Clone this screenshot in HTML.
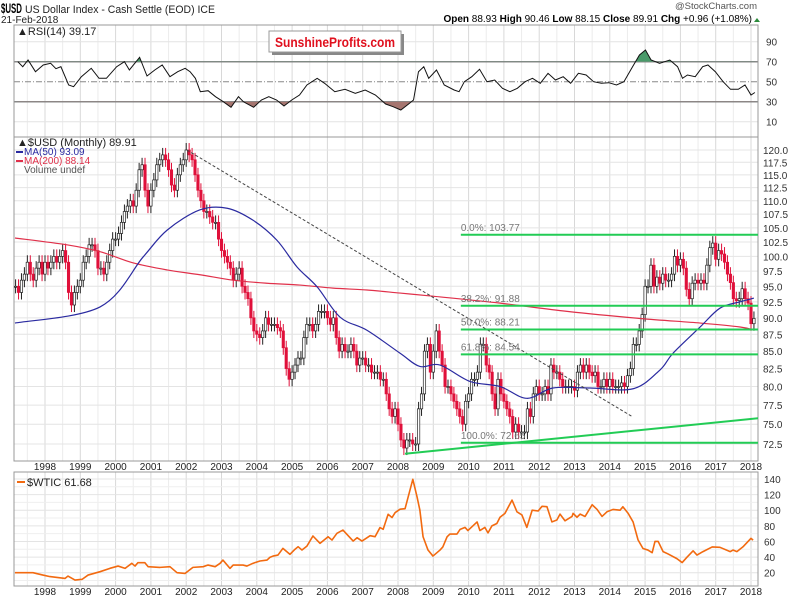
<!DOCTYPE html>
<html><head><meta charset="utf-8"><style>
html,body{margin:0;padding:0;background:#fff;}
svg{display:block;font-family:"Liberation Sans",sans-serif;}
</style></head><body>
<svg id="chart" width="800" height="598" viewBox="0 0 800 598" xmlns="http://www.w3.org/2000/svg">
<rect width="800" height="598" fill="#fff"/>
<g>
<text x="1" y="13" font-size="14" font-weight="bold" fill="#000" textLength="21" lengthAdjust="spacingAndGlyphs">$USD</text>
<text x="25" y="13" font-size="11" fill="#222" textLength="190" lengthAdjust="spacingAndGlyphs">US Dollar Index - Cash Settle (EOD) ICE</text>
<text x="1" y="23" font-size="10" fill="#222">21-Feb-2018</text>
<text x="757" y="9" font-size="9.5" fill="#555" text-anchor="end">@StockCharts.com</text>
<text x="752" y="22" font-size="10" fill="#000" text-anchor="end"><tspan font-weight="bold">Open</tspan> 88.93 <tspan font-weight="bold">High</tspan> 90.46 <tspan font-weight="bold">Low</tspan> 88.15 <tspan font-weight="bold">Close</tspan> 89.91 <tspan font-weight="bold">Chg</tspan> +0.96 (+1.08%)</text>
<path d="M754 22 l3 -4 l3 4 z" fill="#2a8a3a"/>
</g>
<g id="grid"></g>
<g id="rsi"></g>
<g id="price"></g>
<g id="oil"></g>
<g>
<rect x="272" y="34" width="132" height="21" fill="#888"/>
<rect x="269" y="31" width="132" height="21" fill="#fff" stroke="#999"/>
<text x="335" y="47" font-size="14" font-weight="bold" fill="#e0101e" text-anchor="middle" textLength="120" lengthAdjust="spacingAndGlyphs">SunshineProfits.com</text>
</g>
</svg>
<script>
const NS="http://www.w3.org/2000/svg";
// ---------- data ----------
const startYear=1997, startMonth=2; // March 1997
const closes=[95,94,96,97,99,97,96,98,99,97,
99,98,99,100,99,100,101,99,94,92,94,95,
96,99,100,102,102,101,98,98,97,99,101,103,
103,104,106,108,109,110,109,112,116,117,112,109,
112,114,117,118,119,118,116,113,112,115,117,118,
120,119,118,115,112,110,108,108,107,106,106,103,
101,100,99,98,96,97,98,95,94,93,90,88,
87.5,87,88,90,89,89,89,88.5,88,85.5,82.5,81,
82,83,84,84,87,89,89,88,89,91,91,91,
90,89,90,87,85,86,85,85,86,85,83,84,
84,83,83,82,82,82,81,81,79,77,76,77,
75,73,72,73,73,72.5,72.5,77,79,85,86,82,
85,88,85,83,80,80,79,78,77,76,75,78,
79,81,81,82,86,86,83,82,79,77,81,79,
78,77,76,74,75,74,74,74,77,76,79,80,
79,79,80,79,83,82,82,81,80,80,80,80,
79.5,82,83,82,83,82,81.5,82,80,80,81,80,
81,80,80,80,80.5,80,81.5,82.5,86,86,88,90.5,
95,95,98.5,95,96.5,95.5,97,96,96,97,100,98.5,
99.5,98,94.5,93,95.5,96,95.5,96,95.5,98.5,101.5,102.3,
99.5,101,100.4,99,97,95.6,93,92.7,93,94.6,93,92.3,
89.1,89.91];
const ma50Years=[1997.15,1999.56,2000.78,2001.46,2002.39,2003.16,2003.89,2004.57,2005.14,2005.71,2006.36,2007.12,2008.06,2008.62,2009.19,2010.04,2010.89,2011.65,2012.39,2013.44,2014.66,2015.42,2015.79,2016.56,2017.12,2017.69,2018.08];
const ma50Values=[89.2,91.7,99.9,104.6,108.3,108.6,106.4,102.8,98.2,94.9,90.1,88.1,84.7,82.8,83,80.7,80,78.4,79.8,79.8,79.7,82.3,84.7,88.6,91.5,92.5,93.09];
const ma200Years=[1997.15,1998.62,1999.56,2000.49,2001.46,2002.39,2003.33,2004.29,2005.22,2006.16,2007.12,2008.06,2008.99,2010.89,2012.79,2014.86,2016.56,2017.69,2018.08];
const ma200Values=[103.2,102,100.8,98.9,97.7,96.9,96,95.5,95.2,94.7,94.4,93.9,93.4,92.3,91,89.9,89.2,88.6,88.14];
const fibLevels=[103.77,91.88,88.21,84.54,72.65];
const fibLabels=["0.0%: 103.77","38.2%: 91.88","50.0%: 88.21","61.8%: 84.54","100.0%: 72.65"];
const fibStartYear=2009.78, fibEndYear=2018.25;
const supportYears=[2008.2,2018.25], supportValues=[71.3,75.8];
const trendYears=[2002.02,2014.63], trendValues=[120,76];
const priceTicks=[72.5,75,77.5,80,82.5,85,87.5,90,92.5,95,97.5,100,102.5,105,107.5,110,112.5,115,117.5,120];
const rsiYears=[1997.23,1997.37,1997.52,1997.73,1997.95,1998.16,1998.31,1998.45,1998.67,1998.81,1999.03,1999.31,1999.53,1999.74,2000.03,2000.25,2000.39,2000.68,2000.89,2001.11,2001.32,2001.54,2001.76,2001.97,2002.11,2002.26,2002.40,2002.62,2002.83,2003.05,2003.27,2003.48,2003.62,2003.91,2004.13,2004.34,2004.56,2004.77,2004.99,2005.21,2005.42,2005.71,2005.92,2006.21,2006.50,2006.79,2007.07,2007.36,2007.65,2007.86,2008.08,2008.30,2008.44,2008.58,2008.73,2008.87,2009.09,2009.31,2009.59,2009.73,2009.88,2010.09,2010.31,2010.52,2010.74,2010.96,2011.17,2011.38,2011.60,2011.81,2012.03,2012.25,2012.46,2012.68,2012.89,2013.11,2013.33,2013.54,2013.76,2013.97,2014.19,2014.40,2014.62,2014.84,2015.01,2015.17,2015.41,2015.70,2015.92,2016.06,2016.20,2016.42,2016.63,2016.78,2016.99,2017.21,2017.42,2017.64,2017.83,2018.00,2018.11];
const rsiValues=[70,65,71.7,60,66.7,68.4,63,65,46.7,45,55,63.4,53.4,53.4,65,70,61.7,74.4,55.7,61.7,66.7,55,60,63.4,60,53.4,40,41,35,30,24.4,35,30,24.4,31.7,35,31.7,25.7,31.7,36.7,46.7,53.4,48.4,40,42.4,38.4,41.7,36.7,27.7,25,21.7,27.7,31.7,60,65,53.4,61.7,46.7,41.7,40,50,55,62.4,50,51.7,43.4,40,43.4,50,53.4,48.4,58.4,51.7,55,48.4,58.4,56.7,50,48.4,49,46.7,50,63.4,76.7,81.7,71.7,68.4,71.7,65,53.4,56.7,55,65,66.7,60,50,42.4,42.4,46.7,36.7,39.2];
const rsiTicks=[10,30,50,70,90];
const oilYears=[1997.15,1997.66,1997.94,1998.14,1998.57,1998.65,1998.85,1999.05,1999.22,1999.56,1999.84,2000.07,2000.27,2000.46,2000.55,2000.63,2000.83,2000.92,2001.26,2001.54,2001.74,2001.97,2002.19,2002.48,2002.62,2002.82,2002.96,2003.04,2003.24,2003.33,2003.61,2003.72,2003.89,2004.09,2004.29,2004.37,2004.46,2004.60,2004.74,2004.94,2005.08,2005.17,2005.28,2005.42,2005.59,2005.79,2006.02,2006.13,2006.27,2006.44,2006.73,2006.84,2006.98,2007.21,2007.35,2007.49,2007.58,2007.72,2007.83,2007.92,2008.06,2008.20,2008.42,2008.54,2008.62,2008.71,2008.85,2008.99,2009.19,2009.27,2009.39,2009.47,2009.67,2009.76,2009.90,2009.98,2010.24,2010.32,2010.46,2010.55,2010.66,2010.80,2010.89,2011.03,2011.23,2011.37,2011.51,2011.65,2011.80,2011.97,2012.08,2012.22,2012.36,2012.50,2012.59,2012.73,2012.93,2012.96,2013.07,2013.16,2013.30,2013.50,2013.64,2013.78,2013.92,2014.09,2014.29,2014.37,2014.52,2014.66,2014.80,2014.94,2015.08,2015.20,2015.28,2015.37,2015.51,2015.65,2015.90,2016.05,2016.19,2016.36,2016.47,2016.64,2016.90,2017.12,2017.41,2017.49,2017.60,2017.77,2018.00,2018.06];
const oilValues=[20,20,17,15,12.7,15.7,10.6,11.5,17,21.3,25.6,28.5,25.6,32,28.5,32.8,32.8,27.7,26.8,27.7,20,19.1,26.8,27.7,29.8,27.7,32,36.2,25.5,29.8,29.8,28.5,32,35,36.2,39.6,41.3,42.6,51.2,43.5,49.9,53.3,49,54.1,67,57.6,66,61.8,70.4,74.6,60.5,64.8,60.5,67.4,66.1,77.8,75.6,94.8,90.6,97,101.3,102,139.6,117,100,66,49,41.3,49,53,66,69.5,69.5,75.5,78,74,85,74,78,71,80,83,91,96,113,98,94,78,100,99,105,104.5,85,87.5,95,86.5,92,96,91,95,92,107,101,92,98,101,100,104.5,96,85,62,51,49,45.6,60,60,47,44,38,33,40,48,42.6,47,53,52.5,47,49,47,53,64,61.68];
const oilTicks=[20,40,60,80,100,120,140];
const yearLabels=[1998,1999,2000,2001,2002,2003,2004,2005,2006,2007,2008,2009,2010,2011,2012,2013,2014,2015,2016,2017,2018];
// ---------- scales ----------
const L=14,R=758;
const xs=y=>45+(y-1998)*35.3;
const ry=v=>131.7-v;
const py=v=>150+(Math.log(120)-Math.log(v))*583.4;
const oy=v=>572.7-(v-20)*0.781;
function mk(parent,tag,attrs){const e=document.createElementNS(NS,tag);for(const k in attrs)e.setAttribute(k,attrs[k]);parent.appendChild(e);return e;}
function smoothPath(pts){let d='M'+pts[0][0]+','+pts[0][1];for(let i=0;i<pts.length-1;i++){const p0=pts[i-1]||pts[i],p1=pts[i],p2=pts[i+1],p3=pts[i+2]||p2;
const c1=[p1[0]+(p2[0]-p0[0])/6,p1[1]+(p2[1]-p0[1])/6],c2=[p2[0]-(p3[0]-p1[0])/6,p2[1]-(p3[1]-p1[1])/6];
d+=' C'+c1[0]+','+c1[1]+' '+c2[0]+','+c2[1]+' '+p2[0]+','+p2[1];}return d;}
const grid=document.getElementById('grid');
const rsiG=document.getElementById('rsi');
const priceG=document.getElementById('price');
const oilG=document.getElementById('oil');
const panels=[[25,137],[137,461],[472,586]];
panels.forEach(p=>{yearLabels.forEach(yr=>{const l=mk(grid,'line',{x1:xs(yr),x2:xs(yr),y1:p[0],y2:p[1],stroke:'#d8d8d8','stroke-width':1});


const m=mk(grid,'line',{x1:xs(yr-0.5),x2:xs(yr-0.5),y1:p[0],y2:p[1],stroke:'#ececec','stroke-width':1});

});});
priceTicks.forEach(t=>{const l=mk(grid,'line',{x1:L,x2:R,y1:py(t),y2:py(t),stroke:'#e4e4e4'});


const tx=mk(grid,'text',{x:763,y:py(t)+4,'font-size':10,fill:'#333'});tx.textContent=t.toFixed(1);

});
oilTicks.forEach(t=>{const l=mk(grid,'line',{x1:L,x2:R,y1:oy(t),y2:oy(t),stroke:'#e4e4e4'});


const l2=mk(grid,'line',{x1:L,x2:R,y1:oy(t-10),y2:oy(t-10),stroke:'#efefef'});


const tx=mk(grid,'text',{x:764,y:oy(t)+4,'font-size':10,fill:'#333'});tx.textContent=t;

});
rsiTicks.forEach(t=>{const strong=(t===30||t===70);const l=mk(grid,'line',{x1:L,x2:R,y1:ry(t),y2:ry(t),stroke:strong?'#888':(t===50?'#888':'#e4e4e4'),'stroke-width':strong?1.5:1});
if(t===50)l.setAttribute('stroke-dasharray','6 2 1 2');


const tx=mk(grid,'text',{x:766,y:ry(t)+4,'font-size':10,fill:'#333'});tx.textContent=t;

});
[[470],[595]].forEach(r=>{yearLabels.forEach(yr=>{const tx=mk(grid,'text',{x:xs(yr),y:r[0],'font-size':10,fill:'#222','text-anchor':'middle'});tx.textContent=yr;

});});
panels.forEach(p=>{const b=mk(grid,'rect',{x:L,y:p[0],width:R-L,height:p[1]-p[0],fill:'none',stroke:'#999'});

});
// ---------- RSI ----------
const rsiPts=rsiYears.map((y,i)=>xs(y)+','+ry(rsiValues[i])).join(' ');
const defs=mk(rsiG,'defs',{});
const cpLow=mk(defs,'clipPath',{id:'cpLow'});mk(cpLow,'rect',{x:L,y:ry(30),width:R-L,height:40});
const cpHigh=mk(defs,'clipPath',{id:'cpHigh'});mk(cpHigh,'rect',{x:L,y:0,width:R-L,height:ry(70)});
const areaLow=mk(rsiG,'polygon',{points:xs(rsiYears[0])+','+ry(30)+' '+rsiPts+' '+xs(rsiYears[rsiYears.length-1])+','+ry(30),fill:'#a5756f','clip-path':'url(#cpLow)'});


const areaHigh=mk(rsiG,'polygon',{points:xs(rsiYears[0])+','+ry(70)+' '+rsiPts+' '+xs(rsiYears[rsiYears.length-1])+','+ry(70),fill:'#4a9a6a','clip-path':'url(#cpHigh)'});


const rsiLine=mk(rsiG,'polyline',{points:rsiPts,fill:'none',stroke:'#111','stroke-width':1});


const rl=mk(rsiG,'text',{x:17,y:35,'font-size':11,fill:'#222'});rl.textContent='▲RSI(14) 39.17';


// ---------- price ----------
const clipP=mk(defs,'clipPath',{id:'cpPrice'});mk(clipP,'rect',{x:L,y:137,width:R-L,height:324});
const pc=mk(priceG,'g',{'clip-path':'url(#cpPrice)'});
closes.forEach((c,i)=>{const o=i===0?c:closes[i-1];const yr=startYear+(startMonth+i)/12;const x=xs(yr);
const hi=Math.max(o,c)*1.012,lo=Math.min(o,c)*0.988;const down=c<o;
const w=mk(pc,'line',{x1:x,x2:x,y1:py(hi),y2:py(lo),stroke:down?'#e0103a':'#222','stroke-width':1});


const top=py(Math.max(o,c)),bot=py(Math.min(o,c));
const b=mk(pc,'rect',{x:x-1.2,y:top,width:2.4,height:Math.max(1,bot-top),fill:down?'#e0103a':'#fff',stroke:down?'#e0103a':'#222','stroke-width':0.7});

});
const ma200=mk(pc,'path',{d:smoothPath(ma200Years.map((y,i)=>[xs(y),py(ma200Values[i])])),fill:'none',stroke:'#e0304a','stroke-width':1.2});


const ma50=mk(pc,'path',{d:smoothPath(ma50Years.map((y,i)=>[xs(y),py(ma50Values[i])])),fill:'none',stroke:'#2a2aa0','stroke-width':1.2});


const tl=mk(pc,'line',{x1:xs(trendYears[0]),y1:py(trendValues[0]),x2:xs(trendYears[1]),y2:py(trendValues[1]),stroke:'#444','stroke-dasharray':'3 2','stroke-width':1});


const sl=mk(pc,'line',{x1:xs(supportYears[0]),y1:py(supportValues[0]),x2:xs(supportYears[1]),y2:py(supportValues[1]),stroke:'#22cc55','stroke-width':2});


fibLevels.forEach((f,i)=>{const l=mk(pc,'line',{x1:xs(fibStartYear),x2:xs(fibEndYear),y1:py(f),y2:py(f),stroke:'#22cc55','stroke-width':2});


const t=mk(pc,'text',{x:xs(fibStartYear),y:py(f)-4,'font-size':10,fill:'#777'});t.textContent=fibLabels[i];

});
const lg=[['$USD (Monthly) 89.91','#222',146],['MA(50) 93.09','#2a2aa0',155],['MA(200) 88.14','#e0304a',164],['Volume undef','#555',173]];
lg.forEach((e,i)=>{if(i===1||i===2){const d=mk(priceG,'line',{x1:16,x2:23,y1:e[2]-3,y2:e[2]-3,stroke:e[1],'stroke-width':2});

}
const t=mk(priceG,'text',{x:i===0?17:24,y:e[2],'font-size':i===0?11:10,fill:e[1]});t.textContent=(i===0?'▲':'')+e[0];

});
// ---------- oil ----------
const oilLine=mk(oilG,'polyline',{points:oilYears.map((y,i)=>xs(y)+','+oy(oilValues[i])).join(' '),fill:'none',stroke:'#f26a10','stroke-width':1.6,'stroke-linejoin':'round'});


const od=mk(oilG,'line',{x1:17,x2:25,y1:482,y2:482,stroke:'#f26a10','stroke-width':2});


const ot=mk(oilG,'text',{x:27,y:486,'font-size':11,fill:'#222'});ot.textContent='$WTIC 61.68';


</script>
</body></html>
